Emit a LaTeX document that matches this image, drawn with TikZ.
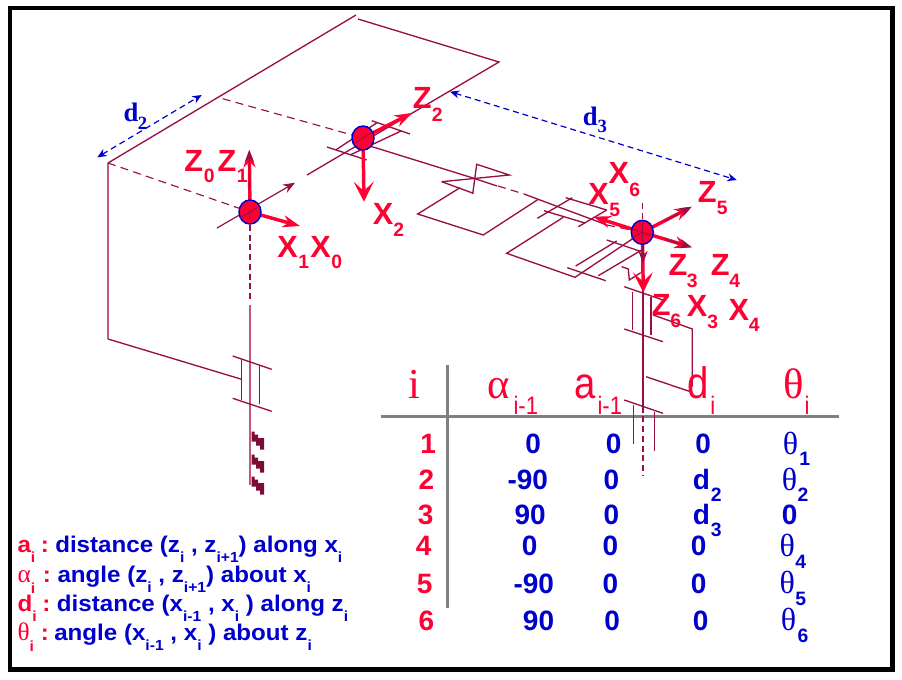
\documentclass[tikz,border=0pt]{standalone}
\usepackage{fontspec}
\usetikzlibrary{arrows.meta,shapes.geometric}
\newfontfamily\abf{Liberation Sans}
\newfontfamily\alg[FakeStretch=1.065]{Liberation Sans}
\newfontfamily\arl[FakeStretch=0.87]{Liberation Sans}
\newfontfamily\tms{Liberation Serif}
\definecolor{rd}{HTML}{FF0033}
\definecolor{bl}{HTML}{0000CC}
\definecolor{dk}{HTML}{990F45}
\definecolor{lt}{HTML}{C0587F}
\definecolor{gy}{HTML}{808080}
\newcount\lblc
\newcommand{\lbl}[3]{\global\advance\lblc by 1 \node[anchor=base west,inner sep=0pt,name=t\the\lblc] at (#1,#2) {#3};}
\newcommand{\axl}[3]{\lbl{#1}{#2}{\abf\bfseries\fontsize{23}{24}\selectfont\color{rd}#3}}
\newcommand{\axs}[3]{\lbl{#1}{#2}{\abf\bfseries\fontsize{14.5}{18}\selectfont\color{rd}#3}}
\newcommand{\hdr}[3]{\lbl{#1}{#2}{\tms\fontsize{32}{33}\selectfont\color{rd}#3}}
\newcommand{\hda}[3]{\lbl{#1}{#2}{\arl\fontsize{33}{34}\selectfont\color{rd}#3}}
\newcommand{\hds}[3]{\lbl{#1}{#2}{\arl\fontsize{19}{20}\selectfont\color{rd}#3}}
\newcommand{\rnum}[3]{\lbl{#1}{#2}{\abf\bfseries\fontsize{21}{22}\selectfont\color{rd}#3}}
\newcommand{\bnum}[3]{\lbl{#1}{#2}{\abf\bfseries\fontsize{21}{22}\selectfont\color{bl}#3}}
\newcommand{\bsub}[3]{\lbl{#1}{#2}{\abf\bfseries\fontsize{14.5}{18}\selectfont\color{bl}#3}}
\newcommand{\lsb}[1]{\raisebox{-0.42em}{\fontsize{11}{12}\selectfont #1}}
\tikzset{
 link/.style={draw=dk,line width=1pt},
 pale/.style={draw=lt,line width=1.5pt},
 dsh/.style={draw=dk,line width=0.85pt,dash pattern=on 6pt off 4pt},
 dshv/.style={draw=dk,line width=0.85pt,dash pattern=on 4.5pt off 2.8pt},
 thinar/.style={draw=dk,line width=0.9pt,-{Stealth[length=9pt,width=7pt]}},
 redar/.style={draw=rd,line width=2.6pt,-{Stealth[length=15pt,width=15pt,inset=7pt]}},
 redfill/.style={draw=rd,line width=2.6pt,-{Stealth[length=13pt,width=9pt]}},
 dimar/.style={draw=bl,line width=0.9pt,dash pattern=on 4.5pt off 3pt,{Stealth[length=7pt,width=6pt]}-{Stealth[length=7pt,width=6pt]}},
 joint/.style={ellipse,draw=bl,fill=rd,line width=1.1pt,minimum width=16.5pt,minimum height=18pt,inner sep=0pt},
 tabrule/.style={draw=gy,line width=1.9pt}
}
\begin{document}
\begin{tikzpicture}[x=0.75pt,y=-0.75pt]
\useasboundingbox (0,0) rectangle (902,679);
\fill[white] (0,0) rectangle (902,679);
\draw[black,line width=3.2pt] (10.3,8) rectangle (892.6,669.5);

% coordinates of joints and axis ends
\coordinate (c1) at (250,212);
\coordinate (c2) at (363,138);
\coordinate (c3) at (642.3,232.3);
\coordinate (base) at (108,163);
\coordinate (topc) at (356,15);

% table rules
\draw[tabrule] (381,416.3) -- (839.3,416.3);
\draw[tabrule] (447.7,365) -- (447.7,608.3);

% structure
\draw[link] (base) -- (topc);
\draw[link] (358,19) -- (499,62) -- (307,175);
\draw[pale] (base) -- (108,339);
\draw[link] (108,339) -- (241.7,379.3);
\draw[dsh] (base) -- (c1);
\draw[dsh] (222.7,98.7) -- (c2);
\draw[dshv] (250,225) -- (250,302);
\draw[pale] (250,305) -- (250,485);
\draw[link] (232.7,356) -- (271.7,369.3);
\draw[link] (232.7,398.3) -- (271.7,411.3);
\draw[link] (241.7,359.3) -- (241.7,400);
\draw[link] (259.3,365) -- (259.3,404.3);
\foreach \yy in {431.7,454.5,476.5}{
 \fill[dk!80!black] (251.5,\yy) -- (254.5,\yy) -- (254.5,\yy+3) -- (258,\yy+3) -- (258,\yy+6.5) -- (264,\yy+6.5) -- (264,\yy+18) -- (260,\yy+18) -- (260,\yy+14) -- (256,\yy+14) -- (256,\yy+10) -- (251.5,\yy+10) -- cycle;
}
\draw[thinar] (217,228) -- (295,182.7);

% joint 2 bracket and link
\draw[link] (327,147) -- (366.7,160);
\draw[link] (371.7,120.7) -- (410,134);
\draw[link] (335.7,150) -- (377,122.7);
\draw[link] (350,155) -- (401.7,130.7);
\draw[link] (357,142) -- (473,178) -- (497,186);
\draw[dsh] (498,186) -- (524,194);
\draw[link] (524,194) -- (607,225);
\draw[dsh] (607,225) -- (c3);

% bow tie and plates
\draw[link] (441.7,181.7) -- (473.3,193.3);
\draw[link] (441.7,181.7) -- (509.3,175) -- (476.7,164.3) -- (472.7,194);
\draw[link] (460,187.7) -- (417.7,214) -- (483.3,235) -- (538.3,199.3);
\draw[link] (565.7,197.7) -- (606.7,210);
\draw[link] (544,210.7) -- (585,223);
\draw[link] (537.3,218.3) -- (572.3,197.7);
\draw[link] (578.3,226.7) -- (606.7,210);
\draw[link] (563.3,217.3) -- (506.7,253.3) -- (575,277.3) -- (c3);
\draw[link] (606.7,240) -- (641.7,251.7);
\draw[link] (567.3,267.7) -- (605.7,280.7);
\draw[link] (575.7,266) -- (616.7,241);
\draw[link] (598.3,275.7) -- (641.7,250);
\draw[link] (621.7,266.7) -- (628.3,269) -- (629.3,280) -- (640.7,272.7);

% wrist column
\draw[link] (643,240) -- (643,406.7);
\draw[dshv] (643,406.7) -- (643,475);
\draw[dshv] (642.7,203) -- (642.7,222);
\draw[link] (624.3,286.7) -- (663,300);
\draw[link] (624.3,329) -- (663,341.7);
\draw[link] (632.7,291.7) -- (632.7,330);
\draw[link] (651,296.7) -- (651,335);
\draw[link] (653.3,315) -- (692.3,329) -- (692.3,386.7);
\draw[link] (646,376.7) -- (692.3,392.3);
\draw[link] (624.3,400) -- (663,413.3);
\draw[link] (633.3,405) -- (633.3,444);
\draw[link] (654.7,411.7) -- (654.7,450.7);

% dimension arrows
\coordinate (d2a) at (97.3,157.3);
\coordinate (d2b) at (201.7,95);
\coordinate (d3a) at (450,91.7);
\coordinate (d3b) at (736.7,180);
\draw[dimar] (d2a) -- (d2b);
\draw[dimar] (d3a) -- (d3b);

% red frames
\coordinate (z1e) at (249.3,150);
\coordinate (x1e) at (300,226);
\coordinate (z2e) at (412,113);
\coordinate (x2e) at (364,201.7);
\coordinate (x5e) at (593.3,216.7);
\coordinate (z3e) at (691.7,247.3);
\coordinate (z5e) at (691.7,206.7);
\coordinate (z6e) at (643.3,292.3);
\draw[redfill] (c1) -- (z1e);
\draw[thinar] (249.5,190) -- (z1e);
\draw[redfill] (c1) -- (x1e);
\draw[redfill] (c2) -- (z2e);
\draw[redar] (c2) -- (x2e);
\draw[redfill] (c3) -- (x5e);
\draw[redfill] (c3) -- (z3e);
\draw[thinar] (665,239) -- (z3e);
\draw[redfill] (c3) -- (z5e);
\draw[thinar] (665,221) -- (z5e);
\draw[redar] (c3) -- (z6e);
\draw[thinar] (643,240) -- (643,263);

\node[joint] (j1) at (c1) {};
\node[joint] (j2) at (c2) {};
\node[joint] (j3) at (c3) {};
\draw[dk,line width=0.7pt] (j1.center) -- ++(0,8) (j1.center) -- ++(-10,6) (j1.center) -- ++(10,-6);
\draw[dk,line width=0.7pt] (j2.center) -- ++(11,-7) (j2.center) -- ++(-9,6);
\draw[dk,line width=0.7pt] (j3.center) -- ++(-9,-3) (j3.center) -- ++(9,3) (j3.center) -- ++(0,10) (j3.center) -- ++(0,-10) (j3.center) -- ++(-11,6);

% axis labels
\axl{184}{171}{Z}\axs{203.5}{182}{0}
\axl{217.3}{171}{Z}\axs{236.7}{182}{1}
\axl{277}{257}{X}\axs{298}{268}{1}
\axl{310}{257}{X}\axs{331}{268}{0}
\axl{372.7}{224}{X}\axs{393}{236}{2}
\axl{412.7}{108}{Z}\axs{431.7}{121.7}{2}
\axl{608.3}{183}{X}\axs{629}{196}{6}
\axl{588}{204}{X}\axs{609}{216}{5}
\axl{697.7}{202.7}{Z}\axs{716.7}{214}{5}
\axl{668.3}{275.7}{Z}\axs{686.7}{287.7}{3}
\axl{710.7}{275.7}{Z}\axs{729}{287.7}{4}
\axl{651.7}{315}{Z}\axs{670}{327}{6}
\axl{686.7}{316.7}{X}\axs{707}{328}{3}
\axl{728.3}{320.7}{X}\axs{748.5}{331.7}{4}
\lbl{123.3}{121.7}{\tms\bfseries\fontsize{20}{22}\selectfont\color{bl}d}
\lbl{137.5}{129}{\tms\bfseries\fontsize{14}{16}\selectfont\color{bl}2}
\lbl{582.7}{125}{\tms\bfseries\fontsize{20}{22}\selectfont\color{bl}d}
\lbl{597.3}{132.7}{\tms\bfseries\fontsize{14}{16}\selectfont\color{bl}3}

% table header
\hdr{408.3}{398.3}{i}
\hdr{487}{398.3}{α}\hds{513.3}{414.3}{i-1}
\hda{574}{398.3}{a}\hds{597.3}{414.3}{i-1}
\hda{687}{398.3}{d}\hds{710}{414.3}{i}
\hdr{783.3}{398.3}{θ}\hds{804.3}{414.3}{i}

% table rows
\rnum{420}{453.3}{1}\rnum{418.3}{489}{2}\rnum{417.7}{524}{3}\rnum{415.7}{555.7}{4}\rnum{416.7}{593.3}{5}\rnum{418.3}{630.7}{6}
\bnum{525}{453.3}{0}\bnum{507.3}{489}{-90}\bnum{514.3}{524}{90}\bnum{521.7}{555.7}{0}\bnum{513.3}{593.3}{-90}\bnum{522.7}{630.7}{90}
\bnum{605.7}{453.3}{0}\bnum{603.3}{489}{0}\bnum{603.3}{524}{0}\bnum{602.3}{555.7}{0}\bnum{602.3}{593.3}{0}\bnum{604}{630.7}{0}
\bnum{695}{453.3}{0}\bnum{692.7}{489}{d}\bsub{710.7}{501.7}{2}\bnum{692.7}{524}{d}\bsub{710.7}{536.7}{3}\bnum{690.7}{555.7}{0}\bnum{690.7}{593.3}{0}\bnum{692.7}{630.7}{0}
\lbl{782.7}{454}{\tms\fontsize{24}{26}\selectfont\color{bl}θ}\bsub{799}{465.7}{1}
\lbl{781.7}{490}{\tms\fontsize{24}{26}\selectfont\color{bl}θ}\bsub{797.3}{501.7}{2}
\bnum{781.7}{524}{0}
\lbl{779.3}{556.7}{\tms\fontsize{24}{26}\selectfont\color{bl}θ}\bsub{795}{568}{4}
\lbl{779.3}{593.3}{\tms\fontsize{24}{26}\selectfont\color{bl}θ}\bsub{795}{605}{5}
\lbl{780.7}{630.7}{\tms\fontsize{24}{26}\selectfont\color{bl}θ}\bsub{797.3}{642.7}{6}

% legend
\newcommand{\lgb}{\alg\bfseries\fontsize{17}{18}\selectfont\color{bl}}
\newcommand{\lgr}{\alg\bfseries\fontsize{17}{18}\selectfont\color{rd}}
\newcommand{\lgt}{\tms\fontsize{19}{20}\selectfont\color{rd}}
\lbl{17.3}{552.7}{\lgr a\lsb{i}}\lbl{40.7}{552.7}{\lgr :}
\lbl{55}{552.7}{\lgb distance (z\lsb{i} , z\lsb{i+1}) along x\lsb{i}}
\lbl{17.3}{582.7}{\lgt α\lsb{\alg\bfseries i}}\lbl{42.7}{582.7}{\lgr :}
\lbl{57.3}{582.7}{\lgb angle (z\lsb{i} , z\lsb{i+1}) about x\lsb{i}}
\lbl{17.3}{611.7}{\lgr d\lsb{i}}\lbl{42}{611.7}{\lgr :}
\lbl{56.7}{611.7}{\lgb distance (x\lsb{i-1} , x\lsb{i} ) along z\lsb{i}}
\lbl{17.3}{640.7}{\lgt θ\lsb{\alg\bfseries i}}\lbl{40.7}{640.7}{\lgr :}
\lbl{54}{640.7}{\lgb angle (x\lsb{i-1} , x\lsb{i} ) about z\lsb{i}}
\end{tikzpicture}
\end{document}
